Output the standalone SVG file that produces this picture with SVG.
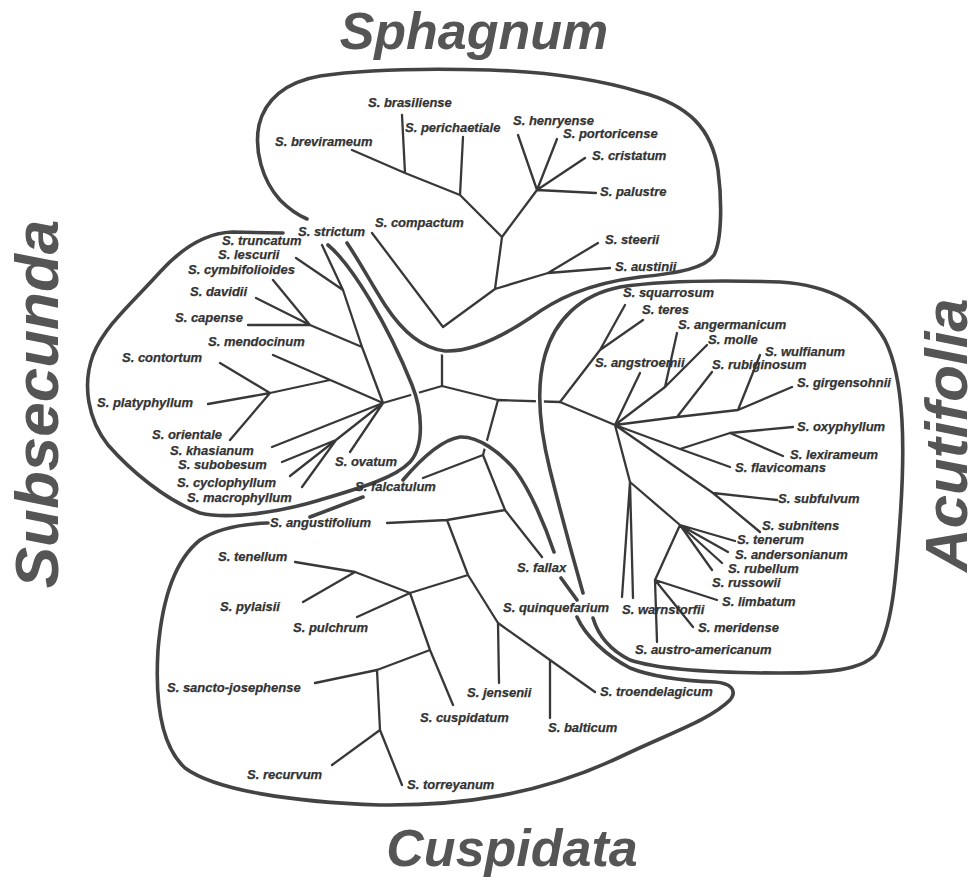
<svg xmlns="http://www.w3.org/2000/svg" width="979" height="880" viewBox="0 0 979 880">
<style>
.t{font-family:"Liberation Sans",Arial,sans-serif;font-size:13px;font-weight:bold;font-style:italic;fill:#333;stroke:#333;stroke-width:0.25}
.ttl{font-family:"Liberation Sans",Arial,sans-serif;font-weight:bold;font-style:italic;fill:#555}
.br{stroke:#383838;stroke-width:2.3;fill:none;stroke-linecap:round;stroke-linejoin:round}
.hw{stroke:#fff;stroke-width:8;fill:none}
.hull{stroke:#434343;stroke-width:3.6;fill:none;stroke-linecap:round;stroke-linejoin:round}
</style>
<rect width="979" height="880" fill="#fff"/>

<g id="connectors">
<path class="br" d="M352,150L405,173L460,195L502,237L537,190 M402,115L405,173 M463,137L460,195 M518,135L537,190 M557,139L537,190 M585,158L537,190 M596,193L537,190 M502,237L495,289L548,273L598,243 M548,273L610,268 M495,289L443,327L372,233 M442,352L442,386"/>
<path class="br" d="M322,245L343,290L362,347L383,403 M296,258L343,290 M273,280L310,325 M256,298L310,325 M248,325L310,325L362,347 M273,355L383,403 M220,363L270,393 M208,404L270,393 M230,440L270,393L330,380 M272,447L383,403 M282,462L336,440 M290,476L336,440 M302,487L336,440L383,403 M350,452L383,403L442,386"/>
<path class="br" d="M442,386L498,400L560,402 M498,400L483,455L505,510L542,557 M423,478L483,455 M387,523L447,520L505,510 M447,520L468,575L498,623L550,660L595,692 M468,575L410,593L355,572 M295,562L355,572 M303,602L355,572 M357,617L410,593L430,650L453,705 M430,650L377,670L315,683 M377,670L380,730L332,765 M380,730L402,785 M498,623L499,683 M550,660L550,718"/>
<path class="br" d="M560,402L600,350L625,305 M643,320L600,350 M560,402L615,425L640,373 M677,333L665,387L707,345 M665,387L615,425 M615,425L677,417L738,410L792,387 M712,372L677,417 M760,355L738,410 M615,425L680,449L730,467 M680,449L730,433L793,427 M730,433L783,456 M615,425L713,493L760,532 M713,493L777,500 M615,425L630,482L622,597 M630,482L633,598 M630,482L680,525L735,541 M680,525L728,552 M680,525L722,563 M680,525L712,570 M680,525L655,580L717,600 M655,580L693,627 M655,580L657,642"/>
</g>

<g id="hulls">
<g class="hw">
<path d="M347,243C360,262 372,285 385,305C400,328 420,348 445,351C470,352 500,338 530,318C555,300 585,284 640,277C680,273 705,268 714,255C722,240 722,200 718,170C712,130 690,105 640,92C600,80 550,72 490,70C420,68 360,70 320,76C285,82 265,100 259,125C254,150 262,180 280,200C290,210 300,216 307,219"/>
<path d="M283,233L232,232C205,233 180,250 160,272C135,300 105,325 93,355C82,385 88,420 108,445C130,470 165,500 200,513C230,520 280,512 320,500C360,488 395,478 410,462C425,445 422,410 412,385C400,355 385,325 370,300C355,275 340,255 328,245"/>
<path d="M583,593C575,565 560,510 550,470C540,430 535,390 545,355C555,320 580,295 620,287C660,281 720,280 780,282C830,285 865,305 885,340C905,380 905,450 900,520C896,580 892,630 875,655C860,670 830,673 780,673C720,673 660,670 630,660C610,650 598,635 593,618"/>
<path d="M363,497L310,517 M268,523C240,524 215,530 200,540C175,560 162,600 158,650C155,700 160,745 185,768C215,790 290,802 380,805C460,806 540,795 620,757C670,733 710,720 730,700C738,690 730,683 715,682C690,681 655,678 630,668C605,655 585,635 577,617 M403,480C420,460 440,440 460,437C478,436 500,452 515,470C530,490 545,525 554,552 M561,578L577,600"/>
</g>
<g id="hull-sphagnum"><path class="hull" d="M347,243C360,262 372,285 385,305C400,328 420,348 445,351C470,352 500,338 530,318C555,300 585,284 640,277C680,273 705,268 714,255C722,240 722,200 718,170C712,130 690,105 640,92C600,80 550,72 490,70C420,68 360,70 320,76C285,82 265,100 259,125C254,150 262,180 280,200C290,210 300,216 307,219"/></g>
<g id="hull-subsecunda"><path class="hull" d="M283,233L232,232C205,233 180,250 160,272C135,300 105,325 93,355C82,385 88,420 108,445C130,470 165,500 200,513C230,520 280,512 320,500C360,488 395,478 410,462C425,445 422,410 412,385C400,355 385,325 370,300C355,275 340,255 328,245"/></g>
<g id="hull-acutifolia"><path class="hull" d="M583,593C575,565 560,510 550,470C540,430 535,390 545,355C555,320 580,295 620,287C660,281 720,280 780,282C830,285 865,305 885,340C905,380 905,450 900,520C896,580 892,630 875,655C860,670 830,673 780,673C720,673 660,670 630,660C610,650 598,635 593,618"/></g>
<g id="hull-cuspidata"><path class="hull" d="M363,497L310,517 M268,523C240,524 215,530 200,540C175,560 162,600 158,650C155,700 160,745 185,768C215,790 290,802 380,805C460,806 540,795 620,757C670,733 710,720 730,700C738,690 730,683 715,682C690,681 655,678 630,668C605,655 585,635 577,617 M403,480C420,460 440,440 460,437C478,436 500,452 515,470C530,490 545,525 554,552 M561,578L577,600"/></g>
</g>

<g id="titles">
<text id="title-sphagnum" class="ttl" x="474" y="49" font-size="52" text-anchor="middle">Sphagnum</text>
<text id="title-cuspidata" class="ttl" x="512" y="866" font-size="52" text-anchor="middle">Cuspidata</text>
<text id="title-subsecunda" class="ttl" font-size="62" text-anchor="middle" transform="translate(58,404) rotate(-90)">Subsecunda</text>
<text id="title-acutifolia" class="ttl" font-size="60" text-anchor="middle" transform="translate(967,435) rotate(-90)">Acutifolia</text>
</g>

<g id="labels">
<g id="n-brasiliense"><text class="t" x="368" y="107">S. brasiliense</text></g>
<g id="n-perichaetiale"><text class="t" x="405" y="132">S. perichaetiale</text></g>
<g id="n-brevirameum"><text class="t" x="275" y="146">S. brevirameum</text></g>
<g id="n-henryense"><text class="t" x="513" y="125">S. henryense</text></g>
<g id="n-portoricense"><text class="t" x="563" y="138">S. portoricense</text></g>
<g id="n-cristatum"><text class="t" x="592" y="160">S. cristatum</text></g>
<g id="n-palustre"><text class="t" x="600" y="196">S. palustre</text></g>
<g id="n-steerii"><text class="t" x="605" y="244">S. steerii</text></g>
<g id="n-austinii"><text class="t" x="615" y="271">S. austinii</text></g>
<g id="n-compactum"><text class="t" x="375" y="227">S. compactum</text></g>
<g id="n-strictum"><text class="t" x="298" y="236">S. strictum</text></g>
<g id="n-truncatum"><text class="t" x="222" y="245">S. truncatum</text></g>
<g id="n-lescurii"><text class="t" x="218" y="259">S. lescurii</text></g>
<g id="n-cymbifolioides"><text class="t" x="188" y="274">S. cymbifolioides</text></g>
<g id="n-davidii"><text class="t" x="190" y="296">S. davidii</text></g>
<g id="n-capense"><text class="t" x="175" y="322">S. capense</text></g>
<g id="n-mendocinum"><text class="t" x="208" y="346">S. mendocinum</text></g>
<g id="n-contortum"><text class="t" x="122" y="362">S. contortum</text></g>
<g id="n-platyphyllum"><text class="t" x="97" y="407">S. platyphyllum</text></g>
<g id="n-orientale"><text class="t" x="152" y="439">S. orientale</text></g>
<g id="n-khasianum"><text class="t" x="170" y="455">S. khasianum</text></g>
<g id="n-subobesum"><text class="t" x="178" y="469">S. subobesum</text></g>
<g id="n-cyclophyllum"><text class="t" x="177" y="487">S. cyclophyllum</text></g>
<g id="n-macrophyllum"><text class="t" x="187" y="502">S. macrophyllum</text></g>
<g id="n-ovatum"><text class="t" x="335" y="466">S. ovatum</text></g>
<g id="n-falcatulum"><text class="t" x="355" y="491">S. falcatulum</text></g>
<g id="n-squarrosum"><text class="t" x="623" y="297">S. squarrosum</text></g>
<g id="n-teres"><text class="t" x="642" y="314">S. teres</text></g>
<g id="n-angermanicum"><text class="t" x="678" y="329">S. angermanicum</text></g>
<g id="n-molle"><text class="t" x="708" y="344">S. molle</text></g>
<g id="n-angstroemii"><text class="t" x="595" y="367">S. angstroemii</text></g>
<g id="n-rubiginosum"><text class="t" x="712" y="369">S. rubiginosum</text></g>
<g id="n-wulfianum"><text class="t" x="765" y="356">S. wulfianum</text></g>
<g id="n-girgensohnii"><text class="t" x="797" y="387">S. girgensohnii</text></g>
<g id="n-oxyphyllum"><text class="t" x="797" y="431">S. oxyphyllum</text></g>
<g id="n-lexirameum"><text class="t" x="790" y="459">S. lexirameum</text></g>
<g id="n-flavicomans"><text class="t" x="735" y="472">S. flavicomans</text></g>
<g id="n-subfulvum"><text class="t" x="778" y="503">S. subfulvum</text></g>
<g id="n-subnitens"><text class="t" x="762" y="530">S. subnitens</text></g>
<g id="n-tenerum"><text class="t" x="737" y="544">S. tenerum</text></g>
<g id="n-andersonianum"><text class="t" x="735" y="559">S. andersonianum</text></g>
<g id="n-rubellum"><text class="t" x="728" y="573">S. rubellum</text></g>
<g id="n-russowii"><text class="t" x="712" y="587">S. russowii</text></g>
<g id="n-limbatum"><text class="t" x="722" y="606">S. limbatum</text></g>
<g id="n-meridense"><text class="t" x="698" y="632">S. meridense</text></g>
<g id="n-austro-americanum"><text class="t" x="635" y="654">S. austro-americanum</text></g>
<g id="n-warnstorfii"><text class="t" x="622" y="614">S. warnstorfii</text></g>
<g id="n-fallax"><text class="t" x="517" y="572">S. fallax</text></g>
<g id="n-quinquefarium"><text class="t" x="503" y="612">S. quinquefarium</text></g>
<g id="n-angustifolium"><text class="t" x="270" y="527">S. angustifolium</text></g>
<g id="n-tenellum"><text class="t" x="218" y="561">S. tenellum</text></g>
<g id="n-pylaisii"><text class="t" x="220" y="611">S. pylaisii</text></g>
<g id="n-pulchrum"><text class="t" x="293" y="632">S. pulchrum</text></g>
<g id="n-sancto-josephense"><text class="t" x="167" y="692">S. sancto-josephense</text></g>
<g id="n-jensenii"><text class="t" x="467" y="697">S. jensenii</text></g>
<g id="n-cuspidatum"><text class="t" x="420" y="722">S. cuspidatum</text></g>
<g id="n-balticum"><text class="t" x="548" y="732">S. balticum</text></g>
<g id="n-troendelagicum"><text class="t" x="600" y="696">S. troendelagicum</text></g>
<g id="n-recurvum"><text class="t" x="247" y="779">S. recurvum</text></g>
<g id="n-torreyanum"><text class="t" x="407" y="789">S. torreyanum</text></g>
</g>
</svg>
